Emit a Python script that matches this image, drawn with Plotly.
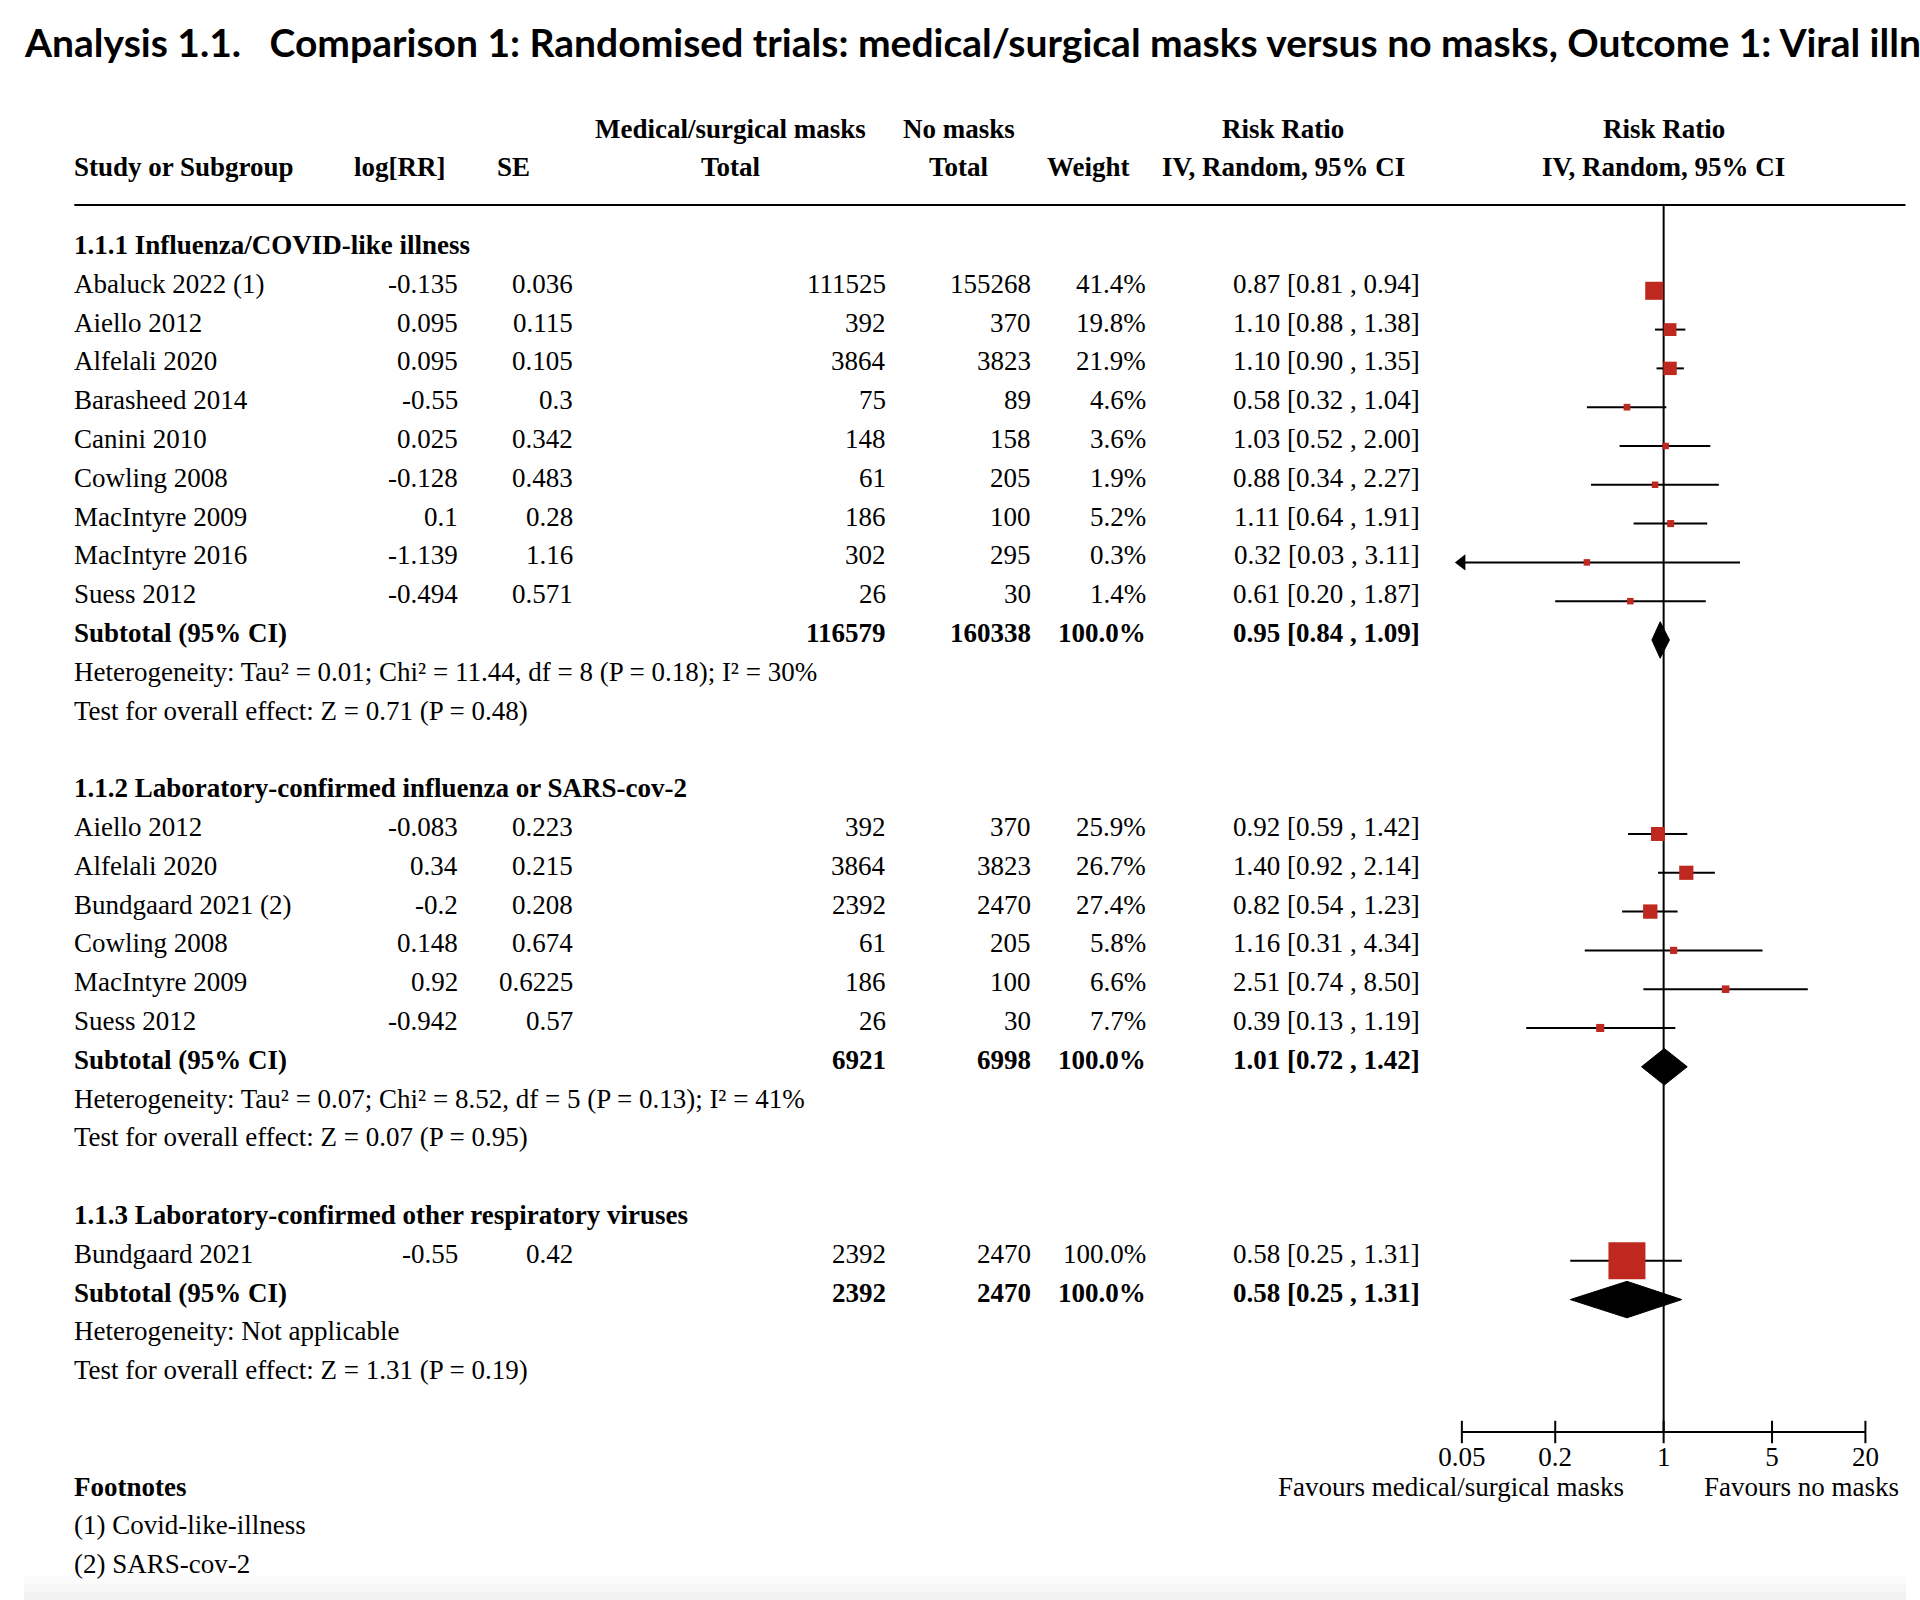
import math
import plotly.graph_objects as go

# ------------------------------------------------------------------ data
title_text = ("Analysis 1.1.\u00a0\u00a0\u00a0Comparison 1: Randomised trials: medical/surgical masks "
              "versus no masks, Outcome 1: Viral illness")

sg_titles = ["1.1.1 Influenza/COVID-like illness",
             "1.1.2 Laboratory-confirmed influenza or SARS-cov-2",
             "1.1.3 Laboratory-confirmed other respiratory viruses"]

sg1_study = ["Abaluck 2022 (1)", "Aiello 2012", "Alfelali 2020", "Barasheed 2014", "Canini 2010",
             "Cowling 2008", "MacIntyre 2009", "MacIntyre 2016", "Suess 2012"]
sg1_logrr = [-0.135, 0.095, 0.095, -0.55, 0.025, -0.128, 0.1, -1.139, -0.494]
sg1_se = [0.036, 0.115, 0.105, 0.3, 0.342, 0.483, 0.28, 1.16, 0.571]
sg1_n_masks = [111525, 392, 3864, 75, 148, 61, 186, 302, 26]
sg1_n_nomask = [155268, 370, 3823, 89, 158, 205, 100, 295, 30]
sg1_weight = [41.4, 19.8, 21.9, 4.6, 3.6, 1.9, 5.2, 0.3, 1.4]
sg1_rr = [0.87, 1.10, 1.10, 0.58, 1.03, 0.88, 1.11, 0.32, 0.61]
sg1_lo = [0.81, 0.88, 0.90, 0.32, 0.52, 0.34, 0.64, 0.03, 0.20]
sg1_hi = [0.94, 1.38, 1.35, 1.04, 2.00, 2.27, 1.91, 3.11, 1.87]

sg2_study = ["Aiello 2012", "Alfelali 2020", "Bundgaard 2021 (2)", "Cowling 2008", "MacIntyre 2009", "Suess 2012"]
sg2_logrr = [-0.083, 0.34, -0.2, 0.148, 0.92, -0.942]
sg2_se = [0.223, 0.215, 0.208, 0.674, 0.6225, 0.57]
sg2_n_masks = [392, 3864, 2392, 61, 186, 26]
sg2_n_nomask = [370, 3823, 2470, 205, 100, 30]
sg2_weight = [25.9, 26.7, 27.4, 5.8, 6.6, 7.7]
sg2_rr = [0.92, 1.40, 0.82, 1.16, 2.51, 0.39]
sg2_lo = [0.59, 0.92, 0.54, 0.31, 0.74, 0.13]
sg2_hi = [1.42, 2.14, 1.23, 4.34, 8.50, 1.19]

sg3_study = ["Bundgaard 2021"]
sg3_logrr = [-0.55]
sg3_se = [0.42]
sg3_n_masks = [2392]
sg3_n_nomask = [2470]
sg3_weight = [100.0]
sg3_rr = [0.58]
sg3_lo = [0.25]
sg3_hi = [1.31]

sub_n_masks = [116579, 6921, 2392]
sub_n_nomask = [160338, 6998, 2470]
sub_weight = [100.0, 100.0, 100.0]
sub_rr = [0.95, 1.01, 0.58]
sub_lo = [0.84, 0.72, 0.25]
sub_hi = [1.09, 1.42, 1.31]
sub_het = ["Heterogeneity: Tau\u00b2 = 0.01; Chi\u00b2 = 11.44, df = 8 (P = 0.18); I\u00b2 = 30%",
           "Heterogeneity: Tau\u00b2 = 0.07; Chi\u00b2 = 8.52, df = 5 (P = 0.13); I\u00b2 = 41%",
           "Heterogeneity: Not applicable"]
sub_test = ["Test for overall effect: Z = 0.71 (P = 0.48)",
            "Test for overall effect: Z = 0.07 (P = 0.95)",
            "Test for overall effect: Z = 1.31 (P = 0.19)"]

tick_vals = [0.05, 0.2, 1, 5, 20]
tick_text = ["0.05", "0.2", "1", "5", "20"]
favours_left = "Favours medical/surgical masks"
favours_right = "Favours no masks"
footnotes = ["(1) Covid-like-illness", "(2) SARS-cov-2"]

# ------------------------------------------------------------------ style / layout constants
W, H = 1920, 1600
CAP_OFF, CAP_SCALE = 24.73, 0.9796   # horizontal mapping of the page into the captured picture


def PX(t):
    """page x (px) that lands at picture x = t"""
    return (t - CAP_OFF) / CAP_SCALE


ROW0_PX = 245.0          # pixel centre of first content row
ROW_PX = 38.8            # row pitch in pixels
MARK_OFF = 0.18          # marks sit slightly below the text centre (rows)
SERIF = "Liberation Serif"
FS = 27
BOX_COLOR = "#BE281E"
BOX_K = [2.65, 2.55, 3.6]
BOX_C = 1.0
BOX_MIN = 6.5
DIAMOND_HALF = 0.47
X_MIN, X_MAX = 0.05, 20
AX_LEFT_PX, AX_RIGHT_PX = 1461.7, 1865.0
AXIS_PX = 1432.0

COL_STUDY = 75
COL_LOGRR, COL_SE, COL_NM, COL_NN, COL_W, COL_CI = 458, 573, 886.5, 1031, 1146, 1420
HDR_LOGRR, HDR_SE, HDR_NM, HDR_NN, HDR_W, HDR_CI, HDR_FOREST = 400, 514, 731, 959, 1089, 1283, 1663.3

y_top = -ROW0_PX / ROW_PX
y_bot = (H - ROW0_PX) / ROW_PX
axis_row = (AXIS_PX - ROW0_PX) / ROW_PX
line_row = (205 - ROW0_PX) / ROW_PX

annotations = []


def txt(xpx, row, text, anchor="left", bold=False, size=FS, family=SERIF):
    if bold:
        text = "<b>" + text + "</b>"
    annotations.append(dict(x=PX(xpx) / W, xref="paper", y=row, yref="y", text=text, showarrow=False,
                            xanchor=anchor, yanchor="middle",
                            borderpad=0, borderwidth=0,
                            font=dict(family=family, size=size, color="black")))


def ci_str(r, lo, hi):
    return f"{r:.2f} [{lo:.2f} , {hi:.2f}]"


# headers
txt(HDR_NM, -3, "Medical/surgical masks", "center", True)
txt(HDR_NN, -3, "No masks", "center", True)
txt(HDR_CI, -3, "Risk Ratio", "center", True)
txt(HDR_FOREST, -3, "Risk Ratio", "center", True)
txt(COL_STUDY, -2, "Study or Subgroup", "left", True)
txt(HDR_LOGRR, -2, "log[RR]", "center", True)
txt(HDR_SE, -2, "SE", "center", True)
txt(HDR_NM, -2, "Total", "center", True)
txt(HDR_NN, -2, "Total", "center", True)
txt(HDR_W, -2, "Weight", "center", True)
txt(HDR_CI, -2, "IV, Random, 95% CI", "center", True)
txt(HDR_FOREST, -2, "IV, Random, 95% CI", "center", True)

groups = [
    (sg1_study, sg1_logrr, sg1_se, sg1_n_masks, sg1_n_nomask, sg1_weight, sg1_rr, sg1_lo, sg1_hi),
    (sg2_study, sg2_logrr, sg2_se, sg2_n_masks, sg2_n_nomask, sg2_weight, sg2_rr, sg2_lo, sg2_hi),
    (sg3_study, sg3_logrr, sg3_se, sg3_n_masks, sg3_n_nomask, sg3_weight, sg3_rr, sg3_lo, sg3_hi),
]

wx, wy = [], []
bx, by, bs = [], [], []
ax_, ay_ = [], []
diamonds = []

row = 0
for g, (study, lrr, se, nm, nn, wt, rr, lo, hi) in enumerate(groups):
    txt(COL_STUDY, row, sg_titles[g], "left", True)
    row += 1
    for i in range(len(study)):
        txt(COL_STUDY, row, study[i])
        txt(COL_LOGRR, row, str(lrr[i]), "right")
        txt(COL_SE, row, str(se[i]), "right")
        txt(COL_NM, row, str(nm[i]), "right")
        txt(COL_NN, row, str(nn[i]), "right")
        txt(COL_W, row, f"{wt[i]:.1f}%", "right")
        txt(COL_CI, row, ci_str(rr[i], lo[i], hi[i]), "right")
        yy = row + MARK_OFF
        wx += [max(lo[i], X_MIN), min(hi[i], X_MAX), None]
        wy += [yy, yy, None]
        if lo[i] < X_MIN:
            ax_.append(X_MIN)
            ay_.append(yy)
        bx.append(rr[i])
        by.append(yy)
        bs.append(max(BOX_MIN, BOX_C + BOX_K[g] * math.sqrt(wt[i])))
        row += 1
    txt(COL_STUDY, row, "Subtotal (95% CI)", "left", True)
    txt(COL_NM, row, str(sub_n_masks[g]), "right", True)
    txt(COL_NN, row, str(sub_n_nomask[g]), "right", True)
    txt(COL_W, row, f"{sub_weight[g]:.1f}%", "right", True)
    txt(COL_CI, row, ci_str(sub_rr[g], sub_lo[g], sub_hi[g]), "right", True)
    yy = row + MARK_OFF
    diamonds.append(([sub_lo[g], sub_rr[g], sub_hi[g], sub_rr[g], sub_lo[g]],
                     [yy, yy - DIAMOND_HALF, yy, yy + DIAMOND_HALF, yy]))
    row += 1
    txt(COL_STUDY, row, sub_het[g])
    row += 1
    txt(COL_STUDY, row, sub_test[g])
    row += 2

foot_row = row + 1
txt(COL_STUDY, foot_row, "Footnotes", "left", True)
for k, f in enumerate(footnotes):
    txt(COL_STUDY, foot_row + 1 + k, f)
txt(HDR_FOREST - 40, foot_row, favours_left, "right")
txt(HDR_FOREST + 40, foot_row, favours_right, "left")

# title
annotations.append(dict(x=max(PX(22), 0) / W, xref="paper", y=1 - 42 / H, yref="paper",
                        text="<b>" + title_text + "</b>",
                        showarrow=False, xanchor="left", yanchor="middle", borderpad=0, borderwidth=0,
                        font=dict(family="Lato", size=39, color="black")))

fig = go.Figure()

fig.add_trace(go.Scatter(x=wx, y=wy, mode="lines", line=dict(color="black", width=2),
                         hoverinfo="skip", showlegend=False, cliponaxis=False))
fig.add_trace(go.Scatter(x=bx, y=by, mode="markers",
                         marker=dict(symbol="square", size=bs, color=BOX_COLOR, opacity=1, line=dict(width=0)),
                         hoverinfo="skip", showlegend=False, cliponaxis=False))
fig.add_trace(go.Scatter(x=ax_, y=ay_, mode="markers",
                         marker=dict(symbol="triangle-left", size=14, color="black", opacity=1, line=dict(width=0)),
                         hoverinfo="skip", showlegend=False, cliponaxis=False))
for dxs, dys in diamonds:
    fig.add_trace(go.Scatter(x=dxs, y=dys, mode="lines", fill="toself", fillcolor="black",
                             line=dict(color="black", width=1), hoverinfo="skip", showlegend=False))
fig.add_trace(go.Scatter(x=tick_vals, y=[axis_row] * len(tick_vals), mode="markers",
                         marker=dict(symbol="line-ns", size=16, opacity=1, line=dict(color="black", width=2)),
                         hoverinfo="skip", showlegend=False, cliponaxis=False))

shapes = [
    dict(type="line", xref="paper", yref="y", x0=PX(75) / W, x1=min(PX(1905), W) / W, y0=line_row, y1=line_row,
         line=dict(color="black", width=2)),
    dict(type="line", xref="x", yref="y", x0=1, x1=1, y0=line_row, y1=axis_row,
         line=dict(color="black", width=2), layer="below"),
]
for k, c in enumerate(["#fbfbfb", "#f6f6f6", "#f2f2f2"]):
    shapes.append(dict(type="rect", xref="paper", yref="paper", x0=0, x1=1,
                       y0=0, y1=(24 - 8 * k) / H, fillcolor=c, line=dict(width=0), layer="below"))

fig.update_layout(
    width=W, height=H, margin=dict(l=0, r=0, t=0, b=0),
    paper_bgcolor="white", plot_bgcolor="rgba(0,0,0,0)",
    annotations=annotations, shapes=shapes, showlegend=False,
    xaxis=dict(type="log", range=[math.log10(X_MIN), math.log10(X_MAX)],
               domain=[PX(AX_LEFT_PX) / W, PX(AX_RIGHT_PX) / W], anchor="free", position=1 - AXIS_PX / H,
               showline=True, linecolor="black", linewidth=2, ticks="", showgrid=False, zeroline=False,
               tickvals=tick_vals, ticktext=tick_text, tickfont=dict(family=SERIF, size=FS, color="black"),
               ticklabelstandoff=1),
    yaxis=dict(range=[y_bot, y_top], domain=[0, 1], visible=False, showgrid=False, zeroline=False),
)

fig.write_html("out.html", config={"displayModeBar": False},
               post_script="document.body.style.margin='0';document.body.style.overflow='hidden';")
